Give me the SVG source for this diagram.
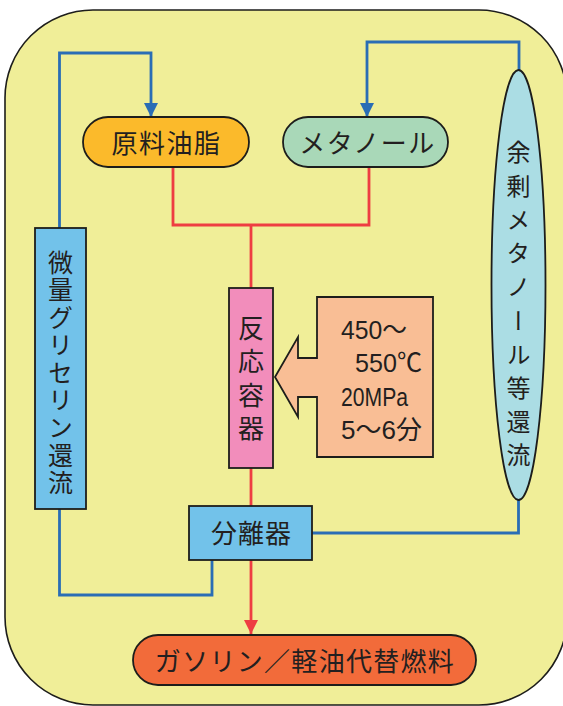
<svg xmlns="http://www.w3.org/2000/svg" width="563" height="706" viewBox="0 0 563 706">
<style>
.box{stroke:#1d1d1b;stroke-width:1.8}
.t{font-family:"Noto Sans CJK JP","Noto Sans",sans-serif;fill:#231f20}
.c{font-family:"Liberation Sans","Noto Sans CJK JP",sans-serif;fill:#231f20;font-size:26px}
.v{writing-mode:vertical-rl;font-family:"Noto Sans CJK JP","Noto Sans",sans-serif;fill:#231f20}
.blue{fill:none;stroke:#2a6db5;stroke-width:2.8}
.red{fill:none;stroke:#ee3d42;stroke-width:2.8}
</style>
<defs>
<marker id="ab" markerUnits="userSpaceOnUse" markerWidth="14" markerHeight="14" refX="14" refY="7" orient="auto" viewBox="0 0 14 14"><path d="M0,0 L14,7 L0,14 z" fill="#2a6db5"/></marker>
<marker id="ar" markerUnits="userSpaceOnUse" markerWidth="14" markerHeight="14" refX="14" refY="7" orient="auto" viewBox="0 0 14 14"><path d="M0,0 L14,7 L0,14 z" fill="#ee3d42"/></marker>
</defs>
<rect x="5" y="10" width="562" height="695" rx="88" ry="88" fill="#f0ee98" stroke="#1d1d1b" stroke-width="1.6"/>
<g id="connectors">
<polyline class="blue" points="59.5,228 59.5,53 151,53 151,117" marker-end="url(#ab)"/>
<polyline class="blue" points="519,70 519,42 367,42 367,117" marker-end="url(#ab)"/>
<polyline class="red" points="173,167 173,225 369,225 369,167"/>
<line class="red" x1="251" y1="225" x2="251" y2="288"/>
<line class="red" x1="251" y1="468" x2="251" y2="506"/>
<line class="red" x1="251" y1="560" x2="251" y2="634" marker-end="url(#ar)"/>
<polyline class="blue" points="59.5,509 59.5,595 212,595 212,560"/>
<polyline class="blue" points="518.5,500 518.5,533 312,533"/>
</g>
<g id="genryo">
<rect class="box" x="83" y="117" width="166" height="50" rx="25" fill="#fbba2b"/>
<text class="t" x="166.5" y="153" font-size="26" letter-spacing="1.5" text-anchor="middle">原料油脂</text>
</g>
<g id="methanol">
<rect class="box" x="283" y="117" width="165" height="50" rx="25" fill="#a9d8b8"/>
<text class="t" x="367.5" y="153" font-size="26" letter-spacing="1.5" text-anchor="middle">メタノール</text>
</g>
<g id="glycerin">
<rect class="box" x="35" y="228" width="51" height="281" fill="#72c2ea"/>
<text class="v" x="60.5" y="249.5" font-size="25" letter-spacing="2.6">微量グリセリン還流</text>
</g>
<g id="reactor">
<rect class="box" x="229" y="288" width="44" height="180" fill="#f28dbb"/>
<text class="v" x="251" y="315" font-size="26" letter-spacing="7.5">反応容器</text>
</g>
<g id="conditions">
<path class="box" d="M317,297 H433 V457 H317 V397 H298 V417 L275,377 L298,337 V358 H317 Z" fill="#f9be95"/>
<text class="c" x="341" y="339" textLength="66" lengthAdjust="spacingAndGlyphs">450～</text>
<text class="c" x="355" y="372" textLength="67" lengthAdjust="spacingAndGlyphs">550℃</text>
<text class="c" x="341" y="406" textLength="67" lengthAdjust="spacingAndGlyphs">20MPa</text>
<text class="c" x="341" y="439" textLength="81" lengthAdjust="spacingAndGlyphs">5～6分</text>
</g>
<g id="excess">
<ellipse class="box" cx="518.5" cy="285" rx="27" ry="215" fill="#abdde4"/>
<text class="v" x="518.5" y="140" font-size="24" letter-spacing="9.7">余剰メタノール等還流</text>
</g>
<g id="separator">
<rect class="box" x="189" y="506" width="123" height="54" fill="#72c2ea"/>
<text class="t" x="251.5" y="543" font-size="26" letter-spacing="1" text-anchor="middle">分離器</text>
</g>
<g id="product">
<rect class="box" x="133" y="635" width="343" height="50" rx="25" fill="#f26b3a"/>
<text class="t" x="305" y="671" font-size="26" letter-spacing="1.3" text-anchor="middle">ガソリン／軽油代替燃料</text>
</g>
</svg>
